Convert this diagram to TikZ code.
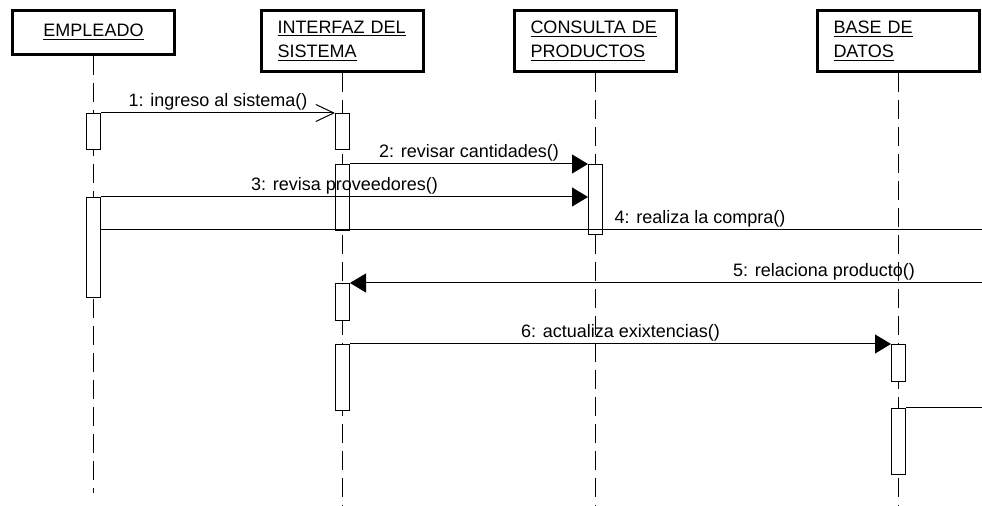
\documentclass[tikz,border=0pt]{standalone}
\usepackage{fontspec}
\setmainfont{Liberation Sans}
\usetikzlibrary{positioning,arrows.meta}
\tikzstyle{objeto} = [draw, line width=1.5pt, rectangle, 
    minimum width=81pt, inner sep=0pt, anchor=north west]
\tikzstyle{activacion} = [draw, fill=white, rectangle, line width=0.5pt,
    minimum width=7pt, inner sep=0pt, anchor=north]
\tikzstyle{vida} = [line width=0.5pt, dash pattern=on 9.5pt off 4pt]
\tikzstyle{mensaje} = [line width=0.5pt,-{Triangle[length=8pt,width=9.5pt]}]
\tikzstyle{llamada} = [line width=0.5pt,-{Straight Barb[length=9pt,width=8.5pt]}]
\tikzstyle{etiqueta} = [above, inner sep=1pt]

\begin{document}
\begin{tikzpicture}[x=0.5pt, y=-0.5pt, font=\fontsize{9}{12}\selectfont]
     \useasboundingbox (0,0) rectangle (982,506);
     % objetos
     \node [objeto, minimum height=22pt, align=center] (empleado) at (11,9) {\underline{EMPLEADO}};
     \node [objeto, minimum height=30.5pt, align=left, text width=65pt] (interfaz) at (260,9) {\underline{INTERFAZ DEL}\\\underline{SISTEMA}};
     \node [objeto, minimum height=30.5pt, align=left, text width=65pt] (consulta) at (513,9) {\underline{CONSULTA DE}\\\underline{PRODUCTOS}};
     \node [objeto, minimum height=30.5pt, align=left, text width=65pt] (basedatos) at (816,9) {\underline{BASE DE}\\\underline{DATOS}};

     % lineas de vida
     \coordinate (finE) at (empleado.south |- 0,493);
     \coordinate (finI) at (interfaz.south |- 0,506);
     \coordinate (finC) at (consulta.south |- 0,506);
     \coordinate (finB) at (basedatos.south |- 0,506);
     \draw [vida] (empleado.south) -- (finE);
     \draw [vida] (interfaz.south) -- (finI);
     \draw [vida] (consulta.south) -- (finC);
     \draw [vida] (basedatos.south) -- (finB);

     % activaciones
     \node [activacion, minimum height=18pt] (e1) at (empleado.south |- 0,113) {};
     \node [activacion, minimum height=50pt] (e2) at (empleado.south |- 0,197) {};
     \node [activacion, minimum height=18pt] (i1) at (interfaz.south |- 0,113) {};
     \node [activacion, minimum height=33pt] (i2) at (interfaz.south |- 0,164) {};
     \node [activacion, minimum height=18.5pt] (i3) at (interfaz.south |- 0,283) {};
     \node [activacion, minimum height=33pt] (i4) at (interfaz.south |- 0,344) {};
     \node [activacion, minimum height=35pt] (c1) at (consulta.south |- 0,164) {};
     \node [activacion, minimum height=18.5pt] (b1) at (basedatos.south |- 0,344) {};
     \node [activacion, minimum height=33pt] (b2) at (basedatos.south |- 0,408) {};

     % mensajes
     \coordinate (borde4) at (982,230);
     \coordinate (borde5) at (982,283);
     \coordinate (borde7) at (982,408);
     \draw [llamada] (e1.north east) -- node[etiqueta] (m1) {1: ingreso al sistema()} (i1.north west);
     \draw [mensaje] (i2.north east) -- node[etiqueta] (m2) {2: revisar cantidades()} (c1.north west);
     \draw [mensaje] (e2.north east) -- node[etiqueta] (m3) {3: revisa proveedores()} (e2.north east -| c1.west);
     \draw [line width=0.5pt] (e2.east |- borde4) -- node[etiqueta, pos=0.68] (m4) {4: realiza la compra()} (borde4);
     \draw [mensaje] (borde5) -- node[etiqueta, pos=0.25] (m5) {5: relaciona producto()} (i3.north east);
     \draw [mensaje] (i4.north east) -- node[etiqueta] (m6) {6: actualiza exixtencias()} (b1.north west);
     \draw [line width=0.5pt] (b2.north east) -- (borde7);
\end{tikzpicture}
\end{document}
